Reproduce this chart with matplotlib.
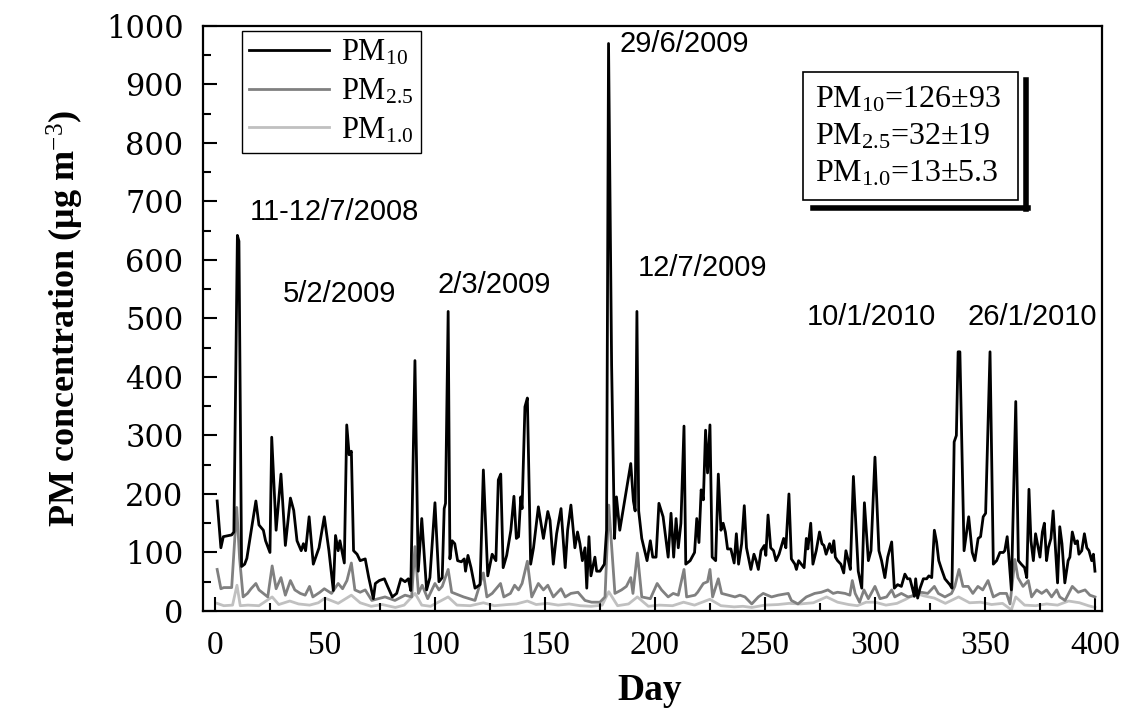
import numpy as np
import matplotlib.pyplot as plt
from matplotlib.lines import Line2D
from matplotlib.ticker import MultipleLocator

plt.rcParams['font.family'] = ['Liberation Serif', 'DejaVu Serif']
plt.rcParams['mathtext.fontset'] = 'custom'
plt.rcParams['mathtext.rm'] = 'Liberation Serif'
plt.rcParams['mathtext.it'] = 'Liberation Serif:italic'
plt.rcParams['mathtext.bf'] = 'Liberation Serif:bold'

# PM10 (day, ug/m3)
day10 = [1, 2.7, 3.8, 7.6, 8.6, 10.2, 10.9, 12.1, 13.5, 14.5, 18.6, 20, 22, 23, 25, 25.8, 27.8, 30, 32,
         34.3, 35.8, 37.3, 39.2, 40.2, 41.2, 42.8, 44.7, 47.3, 49.7, 51.8, 53.8, 54.8, 56, 56.8, 58.8,
         59.9, 61, 62, 63, 64.6, 66, 68.3, 69.9, 72, 72.9, 74.7, 77, 78.6, 80.6, 82.6, 84.5, 86.4, 87.9,
         89, 90.9, 92.4, 94, 96.2, 97.7, 100, 101.8, 103.3, 104.2, 104.8, 106, 106.8, 107.8, 109, 110.3,
         112, 113.3, 113.9, 115, 116.4, 118.2, 120.5, 122, 124, 126, 127.7, 128.8, 129.9, 131, 132.6,
         134.5, 135.9, 137, 138, 139, 139.6, 140.9, 142, 143.5, 144.8, 147, 149.3, 151.3, 152.3, 153.8,
         155.3, 157.3, 159.2, 160.3, 161.8, 163.6, 164.8, 165.9, 167, 168.2, 169, 170, 170.9, 172.7,
         173.5, 175, 177, 178, 178.9, 180.3, 181.6, 182.5, 184, 189, 190.2, 191, 191.8, 192.6, 194,
         196.4, 197.9, 199, 200.5, 201.8, 203.7, 206, 207.3, 208.5, 209.6, 210.6, 211.8, 213.2, 214,
         216, 218, 219, 220, 221, 222, 223, 223.9, 225, 226, 227.6, 228.8, 230, 231, 232, 233, 234.5,
         236, 237, 238, 239.4, 240.6, 241.6, 243.6, 245, 246, 247, 248.2, 249.7, 250.4, 251.4, 252.6,
         253.9, 255, 256.4, 258.5, 259.5, 260.9, 262, 263.6, 264.3, 265.3, 266.5, 267.8, 268.8, 269.5,
         270.8, 271.8, 273.3, 274.8, 275.9, 276.8, 277.8, 279.4, 280.4, 281.3, 282, 283, 284.5, 285.8,
         286.8, 287.9, 288.8, 290.2, 292.4, 294, 295.2, 297, 298.2, 300, 301.8, 303, 304.5, 305.8,
         307.6, 308.8, 310.3, 312, 313.6, 314.8, 315.9, 317, 317.9, 318.5, 319.4, 320.5, 322, 323.5,
         324.5, 325.8, 327, 328, 329, 330.3, 331.8, 334, 335, 336, 337, 337.8, 338.6, 340.5, 342.6,
         344.2, 345.4, 346.9, 348, 349.2, 350.3, 352.3, 353.8, 355.3, 356.8, 358.3, 359, 360.1, 361,
         362, 364, 365.2, 366.5, 368, 369, 370, 370.9, 372, 373, 374.2, 375, 376.1, 377, 378, 378.8,
         380, 381, 382, 383, 384, 385, 386.3, 387.8, 388.6, 389.7, 391, 392, 392.7, 394, 395.2, 396.3,
         397.3, 398.5, 399.3, 400]
pm10 = [188, 108, 127, 130, 135, 642, 632, 76, 80, 90, 188, 147, 138, 120, 100, 297, 138, 234, 112,
        193, 172, 120, 103, 115, 103, 161, 80, 108, 161, 103, 35, 129, 103, 120, 82,
        318, 267, 273, 103, 97, 86, 89, 57, 21, 47, 52, 55, 41, 24, 30, 55, 50, 55,
        35, 428, 68, 158, 36, 57, 185, 50, 57, 175, 184, 512, 89, 120, 115, 86,
        84, 89, 68, 95, 74, 39, 45, 241, 60, 97, 86, 224, 234, 74, 95,
        138, 196, 124, 127, 195, 175, 349, 364, 80, 108, 178, 124, 170, 155, 80,
        132, 175, 74, 138, 181, 108, 135, 115, 86, 108, 39, 127, 60, 92,
        68, 68, 80, 138, 970, 420, 124, 195, 138, 252, 188, 171, 512, 171, 124,
        86, 120, 92, 92, 184, 161, 92, 167, 92, 158, 108, 150, 316, 80,
        86, 100, 158, 117, 207, 190, 309, 236, 318, 92, 86, 234, 138, 150, 135, 106, 106,
        82, 132, 80, 115, 180, 108, 71, 97, 86, 71, 103, 112, 95, 164, 108,
        103, 86, 97, 124, 108, 200, 89, 80, 71, 86, 80, 74, 124, 106,
        150, 80, 103, 135, 115, 112, 97, 115, 100, 120, 92, 86, 80, 65,
        103, 86, 71, 230, 68, 39, 185, 86, 103, 263, 103, 86, 57, 92,
        118, 39, 45, 42, 63, 55, 55, 39, 25, 55, 22, 39, 55, 55,
        60, 57, 138, 118, 86, 71, 55, 45, 39, 289, 300, 443, 443, 103, 161,
        100, 86, 124, 127, 161, 167, 443, 80, 86, 100, 100, 103, 127, 86,
        36, 358, 86, 80, 74, 57, 208, 120, 86, 132, 108, 92, 135, 150, 86, 108,
        124, 171, 108, 48, 144, 115, 48, 86, 92, 135, 115, 120, 97, 103, 132, 108,
        103, 86, 97, 68]

# PM2.5
day25 = [1, 2.7, 4, 7.6, 9.9, 11.2, 12.8, 14.8, 16.4, 18.6, 20, 23, 24, 26, 27.8, 30, 32, 34.3, 36.3,
         38.8, 41, 43, 44.5, 47.7, 49.7, 53, 56, 58, 60, 62, 63.6, 66, 68.3, 71.3, 77.3, 81.8, 86.4,
         89.4, 90.9, 92.5, 94.2, 96.7, 100, 101.8, 103.3, 106, 107.6, 113, 118.2, 122, 123.6, 126,
         129.8, 131.3, 134.3, 136.2, 138, 139.6, 142, 144, 147, 149.3, 151.3, 153.8, 157.3, 159.2,
         161.8, 165, 168.2, 171.2, 175, 177.3, 179, 181.8, 184.8, 187, 189, 190, 192, 194, 197.9, 201,
         203, 206, 208.3, 210.6, 213.2, 214.4, 218.2, 219.4, 222, 223.9, 225, 226.2, 228.8, 230.3,
         233.3, 236.4, 238.6, 240.9, 244, 247, 249.2, 253, 256, 260.6, 262, 265, 268.8, 272.6, 275.6,
         278.6, 281, 283, 286.4, 288.6, 289.7, 291, 293, 295, 297, 300, 302.3, 305.3, 307.6, 309, 312,
         315, 318.8, 321, 324, 327, 328.8, 331.8, 334.8, 336.3, 338.2, 340, 342.4, 344.5, 346.8, 349,
         351.4, 353.8, 356.8, 359.8, 361.4, 363.6, 365, 367.3, 369.7, 371.2, 373.5, 375.8, 378, 380.3,
         382.6, 384, 386.4, 389.7, 392.4, 395.5, 397.7, 400]
pm25 = [71, 38, 40, 40, 177, 90, 24, 30, 38, 47, 36, 27, 24, 77, 38, 57, 27, 52, 36,
        30, 27, 42, 24, 32, 38, 30, 47, 38, 52, 82, 36, 32, 36, 18, 24, 18, 27,
        24, 110, 30, 44, 21, 47, 36, 42, 71, 32, 24, 18, 65, 24, 30,
        47, 24, 30, 44, 36, 47, 85, 24, 47, 36, 44, 24, 38, 24,
        30, 32, 18, 15, 15, 24, 181, 30, 36, 42, 57, 30, 99, 24, 21, 47,
        36, 24, 30, 27, 71, 24, 27, 32, 47, 50, 71, 24, 55, 30,
        27, 24, 27, 24, 12, 24, 30, 24, 27, 30, 18, 12, 24, 30, 32,
        36, 30, 32, 30, 27, 52, 30, 15, 36, 21, 42, 21, 24, 36, 24, 30,
        24, 27, 32, 30, 42, 30, 24, 30, 42, 71, 42, 42, 30, 42, 36,
        52, 24, 30, 30, 12, 88, 57, 42, 52, 24, 36, 30, 36, 24,
        36, 24, 18, 42, 32, 36, 27, 24]

# PM1.0
day1 = [1, 4, 8, 10, 11.5, 15, 20, 26, 29, 34, 38, 43, 47, 50, 56, 62, 66, 71, 76, 82, 86, 91, 94,
        98, 101, 106, 110, 116, 122, 127, 133, 137, 142, 146, 151, 156, 161, 166, 171, 176, 179, 183,
        188, 192, 197, 202, 208, 213, 218, 225, 230, 236, 240, 244, 250, 256, 261, 266, 272, 278,
        283, 288, 292, 296, 300, 305, 310, 314, 318.8, 322, 327, 332, 338, 343, 348, 353, 358, 362,
        364, 368, 373, 378, 383, 388, 393, 397, 400]
pm1 = [13, 9, 10, 44, 9, 10, 9, 24, 11, 17, 12, 10, 14, 22, 13, 27, 14, 8, 11, 6, 10, 30, 10,
       8, 14, 24, 10, 9, 14, 9, 11, 12, 17, 11, 13, 10, 12, 9, 8, 10, 33, 9,
       12, 24, 8, 10, 9, 15, 10, 20, 9, 7, 8, 6, 10, 11, 13, 12, 14, 24,
       15, 11, 9, 15, 15, 10, 13, 20, 30, 26, 22, 13, 24, 14, 15, 11, 13, 2,
       24, 10, 9, 12, 10, 17, 14, 9, 6]

notes = ['11-12/7/2008', '5/2/2009', '2/3/2009', '29/6/2009', '12/7/2009', '10/1/2010', '26/1/2010']
note_x = [16, 31, 101, 184, 192, 269, 342]
note_y = [682, 542, 557, 969, 586, 503, 503]

fig = plt.figure(figsize=(11.32, 7.15), dpi=100)
ax = fig.add_axes([0.1793, 0.1455, 0.7942, 0.8182])

ax.plot(day10, pm10, color='black', lw=2.0, label='PM$_{10}$', zorder=3)
ax.plot(day25, pm25, color='#808080', lw=2.0, label='PM$_{2.5}$', zorder=2)
ax.plot(day1, pm1, color='#c0c0c0', lw=2.0, label='PM$_{1.0}$', zorder=1)

ax.set_xlim(-5.45, 403.2)
ax.set_ylim(0, 1000)
ax.xaxis.set_major_locator(MultipleLocator(50))
ax.xaxis.set_minor_locator(MultipleLocator(25))
ax.yaxis.set_major_locator(MultipleLocator(100))
ax.yaxis.set_minor_locator(MultipleLocator(50))
ax.tick_params(which='both', direction='in', top=False, right=False, width=1.5)
ax.tick_params(which='major', length=10)
ax.tick_params(which='minor', length=6)
ax.tick_params(axis='x', labelsize=24, pad=14)
for lab in ax.get_yticklabels():
    lab.set_family('DejaVu Serif')
    lab.set_fontsize(22)
ax.tick_params(axis='y', pad=14)
for s in ax.spines.values():
    s.set_linewidth(1.6)

W, H = 1132, 715
fig.text(650 / W, 1 - 690 / H, 'Day', fontsize=27, fontweight='bold', ha='center', va='center')
ax.set_ylabel('PM concentration ($\\mathbf{\\mu}$g m$^{-3}$)', fontsize=26, fontweight='bold', labelpad=14)

for t, x, y in zip(notes, note_x, note_y):
    ax.text(x, y, t, fontsize=21, family='Liberation Sans', ha='left', va='center')

leg = ax.legend(loc='upper left', bbox_to_anchor=(0.043, 0.992), fontsize=22, frameon=True,
                fancybox=False, edgecolor='black', framealpha=1, handlelength=2.6,
                labelspacing=0.3, borderpad=0.25, handletextpad=0.4, borderaxespad=0)
leg.get_frame().set_linewidth(1.0)

# stats box with shadow bars
fig.add_artist(plt.Rectangle((803 / W, 1 - 200 / H), 215 / W, 128 / H, transform=fig.transFigure,
                             fill=False, edgecolor='black', lw=1.2))
fig.add_artist(Line2D([1026 / W, 1026 / W], [1 - 80 / H, 1 - 209 / H], transform=fig.transFigure,
                      color='black', lw=4))
fig.add_artist(Line2D([813 / W, 1028 / W], [1 - 208 / H, 1 - 208 / H], transform=fig.transFigure,
                      color='black', lw=4))
stats = ['PM$_{10}$=126±93', 'PM$_{2.5}$=32±19', 'PM$_{1.0}$=13±5.3']
for k, s in enumerate(stats):
    fig.text(815 / W, 1 - (100 + 37 * k) / H, s, fontsize=23, ha='left', va='center')

fig.savefig('out.png', dpi=100)
